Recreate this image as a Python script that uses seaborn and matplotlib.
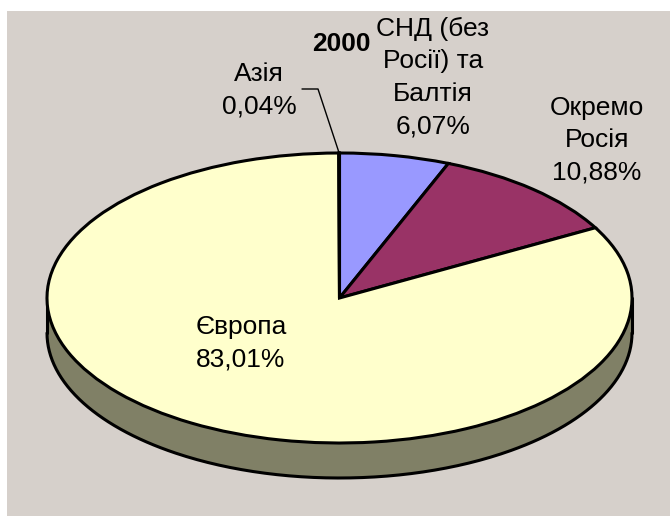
import numpy as np
import matplotlib
matplotlib.use("Agg")
import matplotlib.pyplot as plt
from matplotlib.patches import Rectangle
import seaborn as sns

# ---- data ----
categories = ["СНД (без\nРосії) та\nБалтія", "Окремо\nРосія", "Європа", "Азія"]
values = [6.07, 10.88, 83.01, 0.04]
value_labels = ["6,07%", "10,88%", "83,01%", "0,04%"]
year_label = "2000"
slice_colors = ["#9999FF", "#993366", "#FFFFCC", "#CCFFFF"]

sns.set_style("white")
plt.rcParams['font.family'] = ['Liberation Sans', 'DejaVu Sans']

W, H = 670, 517
fig = plt.figure(figsize=(W / 100, H / 100), dpi=100)
fig.patch.set_facecolor("white")
fig.patches.append(Rectangle((7 / W, 1 / H), 663 / W, (H - 11 - 1) / H,
                             transform=fig.transFigure, facecolor="#D6D0CB",
                             edgecolor="none", zorder=-10))

ax = fig.add_axes([0, 0, 1, 1])
ax.set_facecolor("none")

# pixel geometry of the pie ellipse
cx, cy, rx, ry, depth_px = 339.5, 298.0, 292.5, 145.0, 35.0
depth = depth_px / ry

pal = sns.color_palette(slice_colors)
wedges, _ = ax.pie(values, startangle=90, counterclock=False, colors=pal,
                   radius=1, center=(0, 0),
                   wedgeprops=dict(edgecolor="black", linewidth=2.2, zorder=3))
ax.set_aspect("auto")
ax.set_xlim(-cx / rx, (W - cx) / rx)
ax.set_ylim((cy - H) / ry, cy / ry)
ax.axis("off")

# 3D side of the pie: front half (180..360 deg) of each wedge
for w, col in zip(wedges, pal):
    a, b = min(w.theta1, w.theta2), max(w.theta1, w.theta2)
    for off in (0, 360, -360):
        lo, hi = max(a + off, 180), min(b + off, 360)
        if hi > lo:
            t = np.radians(np.linspace(lo, hi, 300))
            x = np.cos(t)
            y = np.sin(t)
            dark = tuple(c * 0.5 for c in col)
            ax.fill_between(x, y - depth, y, color=dark, zorder=2, linewidth=0)
            ax.plot(x, y - depth, color="black", lw=2.2, zorder=2.5,
                    solid_capstyle="round")
            ax.plot([x[0], x[0]], [y[0], y[0] - depth], color="black", lw=2.2, zorder=2.5)
            ax.plot([x[-1], x[-1]], [y[-1], y[-1] - depth], color="black", lw=2.2, zorder=2.5)


def fx(px):
    return px / W


def fy(py):
    return 1 - py / H


fs = 19
ls = 1.44
label_pos = [(433, 77.5), (597, 140), (241, 343), (259, 90)]
for cat, val, (px, py) in zip(categories, value_labels, label_pos):
    fig.text(fx(px), fy(py), f"{cat}\n{val}", ha="center", va="center",
             fontsize=fs, linespacing=ls, color="black", zorder=5)

fig.text(fx(341), fy(44), year_label, ha="center", va="center",
         fontsize=fs, fontweight="bold", color="black", zorder=5)

# leader line for the smallest slice (Азія)
w = wedges[3]
mid = np.radians((w.theta1 + w.theta2) / 2)
ex, ey = np.cos(mid), np.sin(mid)
lx0, lx1, ly = (302 - cx) / rx, (318 - cx) / rx, (cy - 89) / ry
ax.plot([lx0, lx1, ex], [ly, ly, ey], color="black", lw=1, zorder=4)

fig.savefig("out.png", dpi=100)
